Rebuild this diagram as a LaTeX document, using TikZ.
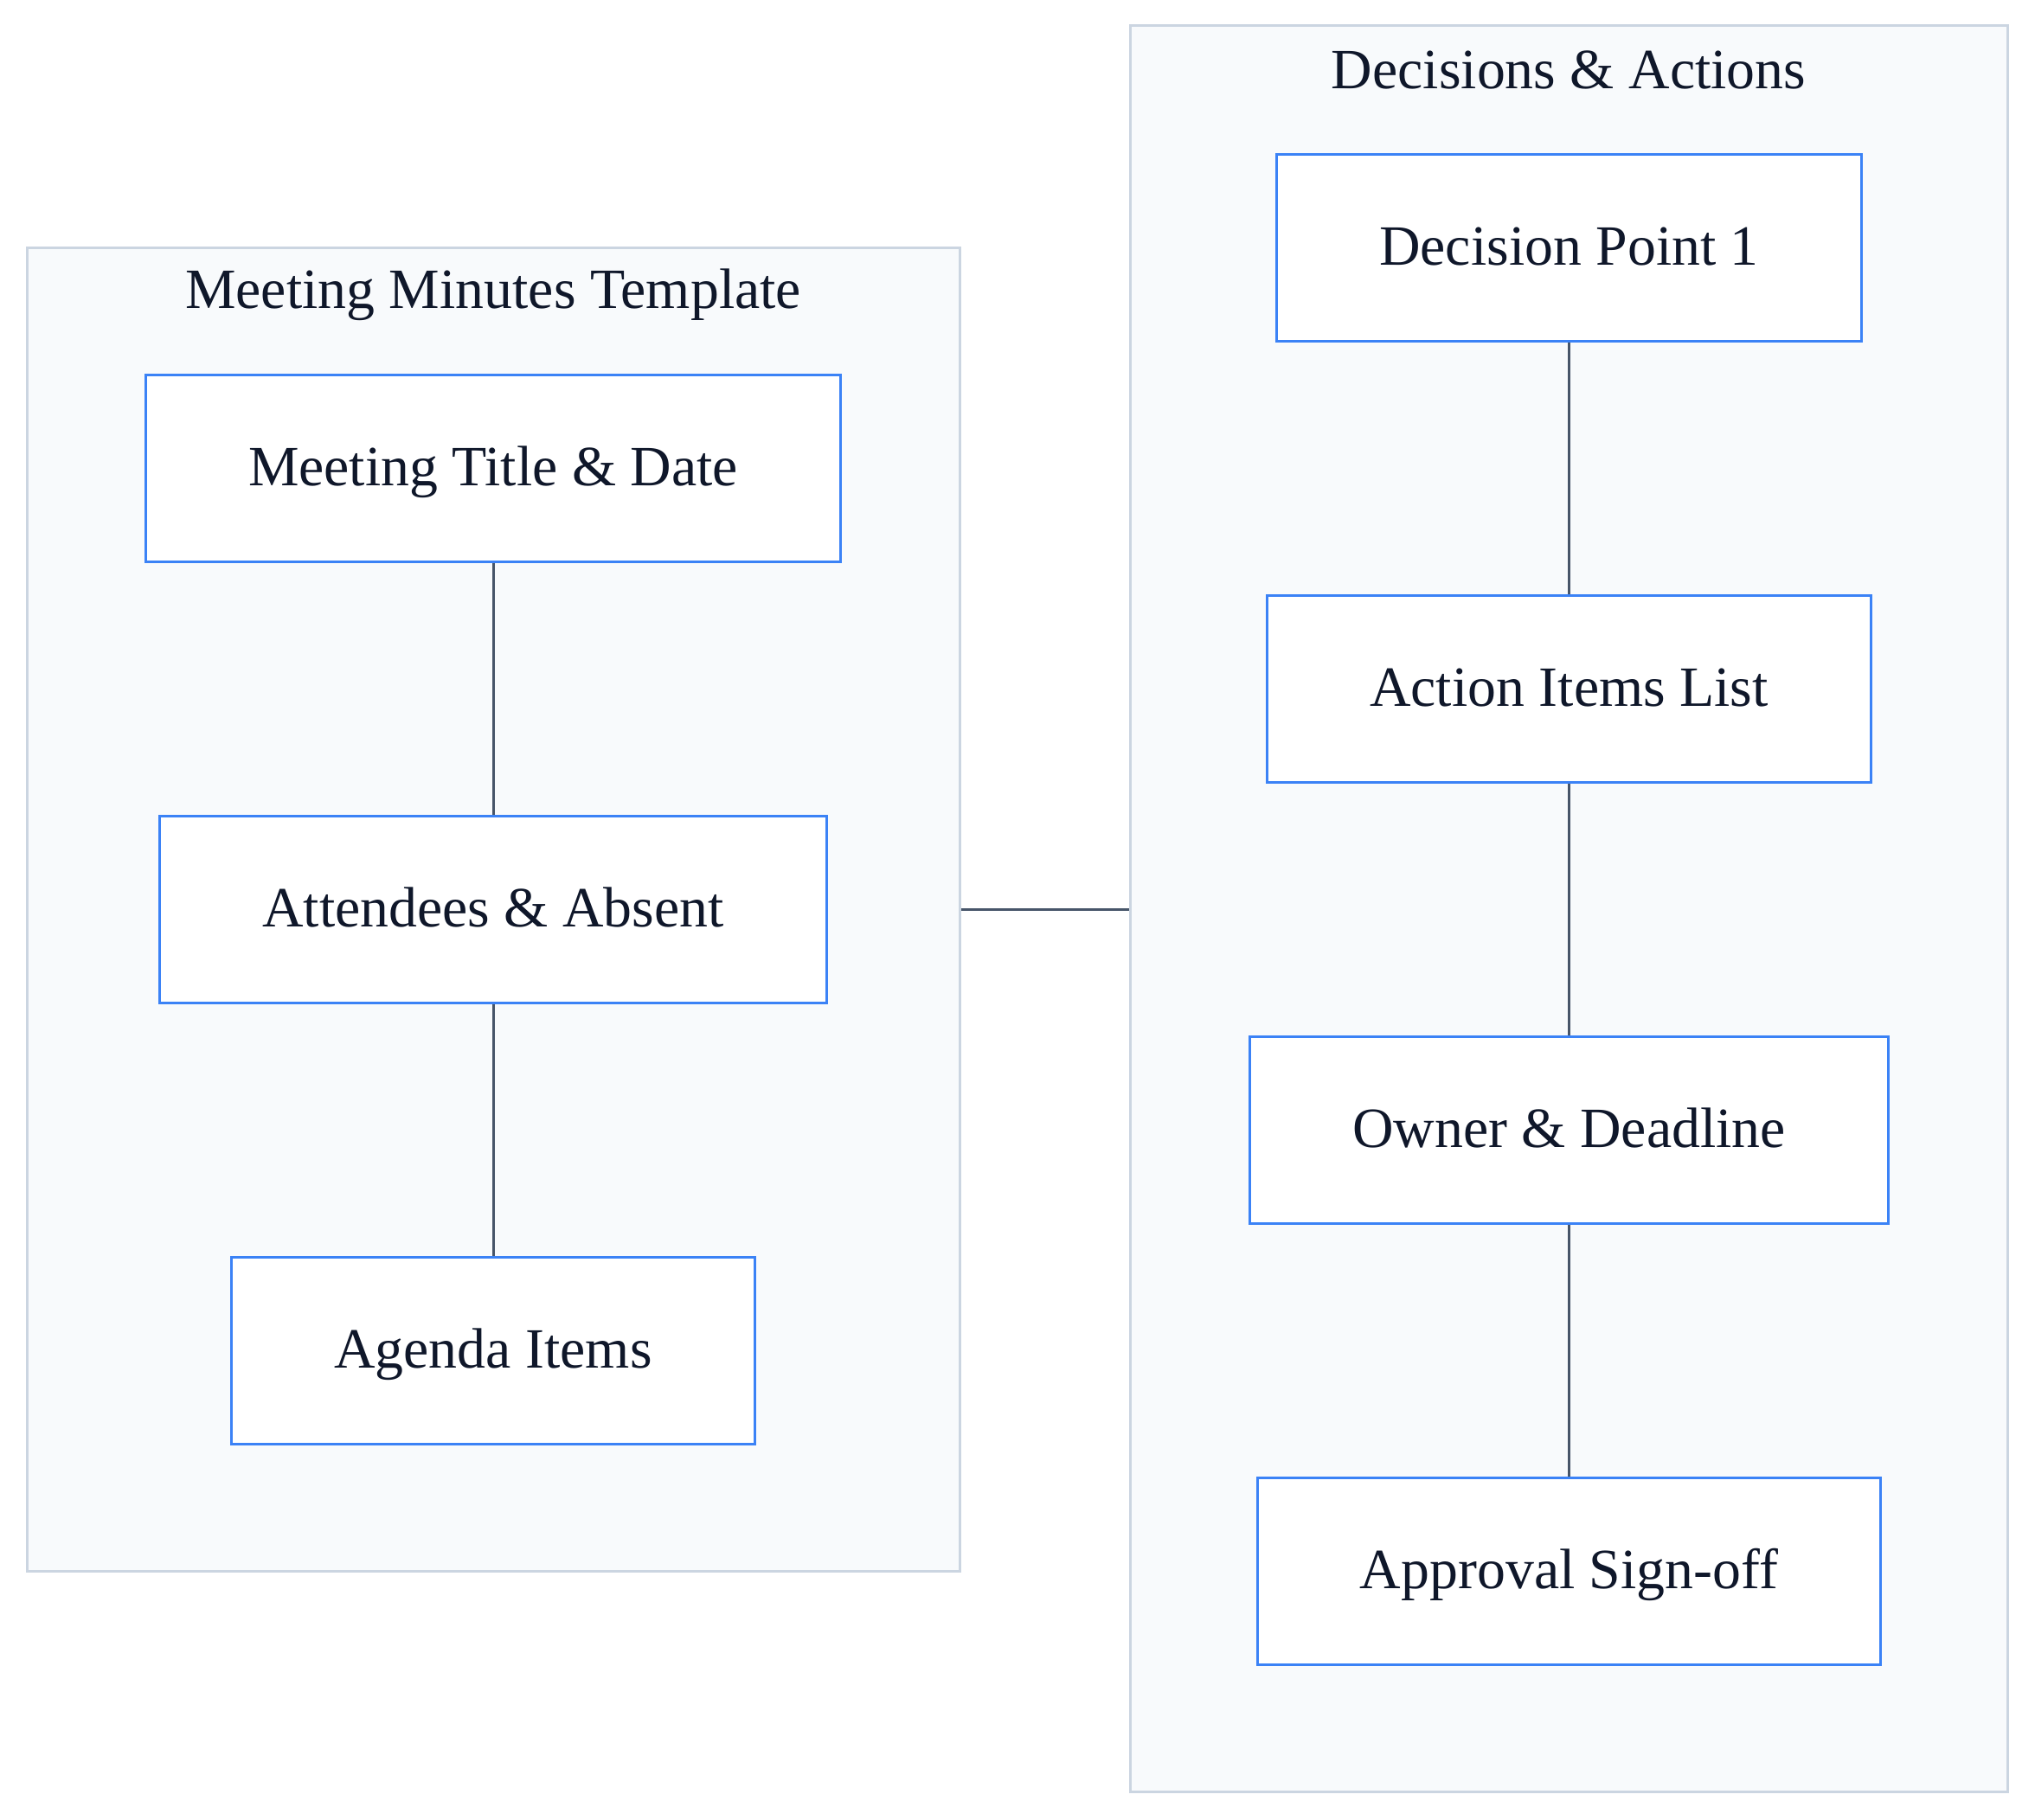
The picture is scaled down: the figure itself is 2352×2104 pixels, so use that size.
\documentclass[tikz,border=0pt]{standalone}
\usepackage{fontspec}
\setmainfont{Liberation Serif}

\definecolor{grpfill}{RGB}{248,250,252}
\definecolor{grpline}{RGB}{203,213,225}
\definecolor{boxline}{RGB}{59,130,246}
\definecolor{linkline}{RGB}{71,85,105}
\definecolor{inktext}{RGB}{15,23,42}

\tikzset{every picture/.style={line width=0.75pt}}
\tikzset{
  group/.style={draw=grpline, fill=grpfill, line width=0.75pt, inner sep=0pt},
  grouptitle/.style={inner sep=0.75pt, text height=12.67pt, text depth=2.47pt, font=\fontsize{16.45}{19}\selectfont, text=inktext},
  item/.style={draw=boxline, fill=white, line width=0.75pt, inner xsep=29.6pt, text height=12.67pt, text depth=2.47pt, minimum height=54pt, font=\fontsize{16.45}{19}\selectfont, text=inktext},
  link/.style={draw=linkline, line width=0.75pt}
}

\begin{document}
\begin{tikzpicture}[x=0.25pt,y=0.25pt,yscale=-1,xscale=1]
\useasboundingbox (0,0) rectangle (2352,2104);

%Groups
\node [group, minimum width=269.6pt, minimum height=382.5pt] (minutes) at (570.75,1051.5) {};
\node [group, minimum width=253.5pt, minimum height=510.25pt] (decisions) at (1813,1050.5) {};

% Group Titles
\node [grouptitle] (minutestitle) at (570,336) {Meeting Minutes Template};
\node [grouptitle] (decisionstitle) at (1813,82) {Decisions \& Actions};

% Text Nodes
\node [item] (title) at (570,541.5) {Meeting Title \& Date};
\node [item] (attendees) at (570,1051.5) {Attendees \& Absent};
\node [item] (agenda) at (570,1561.5) {Agenda Items};
\node [item] (decision) at (1813.5,286.5) {Decision Point 1};
\node [item] (actions) at (1813.5,796.5) {Action Items List};
\node [item] (owner) at (1813.5,1306.5) {Owner \& Deadline};
\node [item] (approval) at (1813.5,1816.5) {Approval Sign-off};

%Straight Lines
\draw [link] (title) -- (attendees);
\draw [link] (attendees) -- (agenda);
\draw [link] (decision) -- (actions);
\draw [link] (actions) -- (owner);
\draw [link] (owner) -- (approval);
\draw [link] (minutes.east) -- (minutes.east -| decisions.west);

\end{tikzpicture}
\end{document}
